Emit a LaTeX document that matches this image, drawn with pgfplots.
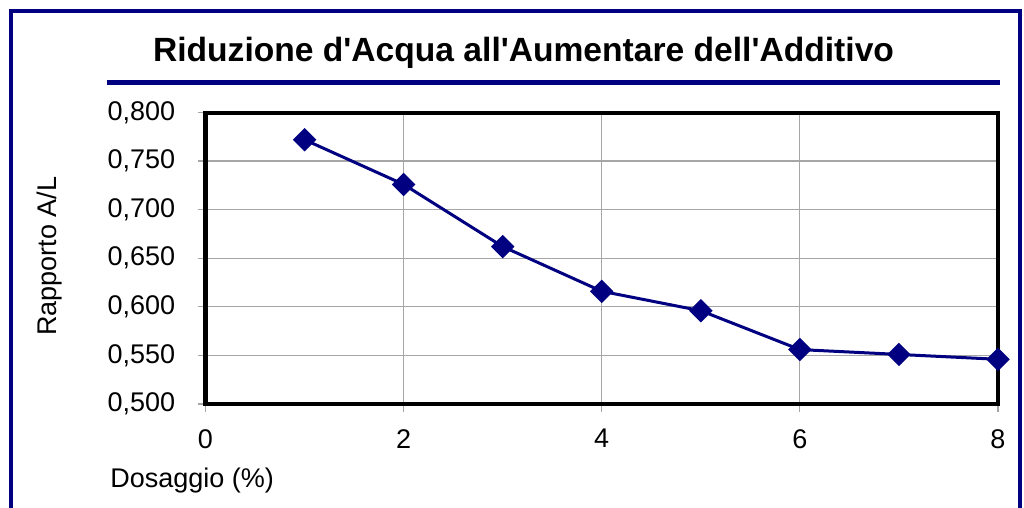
\documentclass[border=0pt]{standalone}
\usepackage{pgfplots}
\pgfplotsset{compat=1.18}
\usepackage{fontspec}
\setmainfont{Liberation Sans}[Ligatures=TeXOff]
\definecolor{navy}{RGB}{0,0,128}
\begin{document}
\fontsize{13.5bp}{16bp}\selectfont
\begin{tikzpicture}
\useasboundingbox (0,0) rectangle (512bp,254bp);
\clip (0,0) rectangle (512bp,254bp);
\draw[navy, line width=2bp] (5.5bp,-10bp) -- (5.5bp,248.5bp) -- (510bp,248.5bp) -- (510bp,-10bp);
\node[font=\fontsize{16.8bp}{20bp}\selectfont\bfseries] at (261.75bp,227.5bp) {Riduzione d'Acqua all'Aumentare dell'Additivo};
\draw[navy, line width=2.5bp] (53.5bp,212.75bp) -- (500bp,212.75bp);
\begin{axis}[
  at={(102.75bp,52bp)}, anchor=south west,
  scale only axis, width=396.25bp, height=145.75bp,
  xmin=0, xmax=8, ymin=0.5, ymax=0.8,
  xtick={0,2,4,6,8},
  ytick={0.5,0.55,0.6,0.65,0.7,0.75,0.8},
  xtick pos=bottom, ytick pos=left,
  grid=major,
  grid style={gray!70, line width=0.6bp},
  axis line style={black, line width=2bp},
  tick align=outside,
  major tick length=4bp,
  tick style={gray!70, line width=0.6bp},
  /pgf/number format/assume math mode=true,
  yticklabel style={xshift=-6.5bp, /pgf/number format/.cd, fixed, fixed zerofill, precision=3, use comma},
  xticklabel style={yshift=-4bp, /pgf/number format/.cd, fixed, precision=0},
  clip=false,
]
\addplot[navy, line width=1.5bp, mark=square*, mark size=3.4bp, mark options={solid, fill=navy, rotate=45}] coordinates {
(1,0.772) (2,0.726) (3,0.662) (4,0.616) (5,0.596) (6,0.556) (7,0.551) (8,0.546)
};
\end{axis}
\node[anchor=west] at (50.5bp,13.5bp) {Dosaggio (\%)};
\node[rotate=90] at (25bp,126bp) {Rapporto A/L};
\end{tikzpicture}
\end{document}
